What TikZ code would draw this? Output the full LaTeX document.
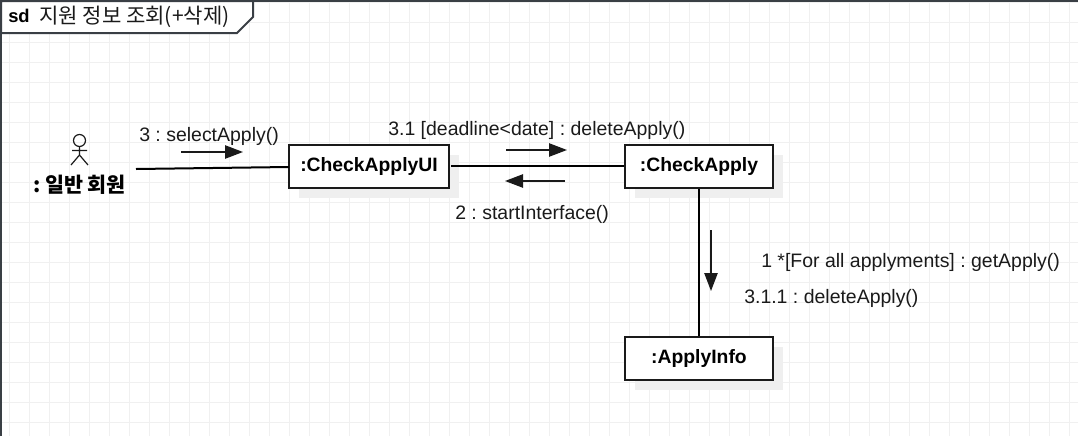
\documentclass[tikz,border=0pt]{standalone}
\usepackage{fontspec}
\setmainfont{Liberation Sans}
\newfontfamily\krfont{Noto Sans CJK KR}
\usetikzlibrary{arrows.meta,shadows}
\definecolor{gridgray}{HTML}{F0F0F0}
\definecolor{shadowgray}{HTML}{EFEFEF}
\definecolor{linedark}{HTML}{1A1A1A}
\definecolor{framedark}{HTML}{3A3F45}
\tikzset{
    objbox/.style={draw=linedark, line width=1.5pt, fill=white, minimum height=32.25pt, inner sep=0pt,
        font=\fontsize{14.5}{17}\selectfont\bfseries,
        drop shadow={opacity=1, fill=shadowgray, shadow xshift=7.5pt, shadow yshift=-7.5pt}},
    msg/.style={anchor=west, inner sep=0pt, text=linedark, font=\fontsize{14.6}{17}\selectfont},
    link/.style={draw=black, line width=1.5pt},
    flow/.style={draw=linedark, line width=1.1pt, -{Triangle[length=13.5pt,width=10pt]}}
}
\begin{document}
\frenchspacing
\begin{tikzpicture}[x=0.75pt,y=-0.75pt]
    \useasboundingbox (0,0) rectangle (1078,436);

    % Grille de fond
    \foreach \x in {9,29,...,1069} {
        \draw[gridgray, line width=0.75pt] (\x,0) -- (\x,436);
    }
    \foreach \y in {2,22,...,422} {
        \draw[gridgray, line width=0.75pt] (0,\y) -- (1078,\y);
    }

    % Cadre et onglet
    \draw[framedark, line width=1.5pt] (1,436) -- (1,1) -- (1078,1);
    \draw[framedark, line width=1.5pt, fill=white] (1,1) -- (253,1) -- (253,17) -- (237,33) -- (1,33) -- cycle;
    \node[anchor=west, inner sep=0pt, font=\fontsize{13.8}{15}\selectfont\bfseries] (sd) at (8,16) {sd};
    \node[anchor=west, inner sep=0pt, text=linedark, font=\fontsize{15.8}{17}\selectfont] (title) at (39,17) {\krfont 지원 정보 조회(+삭제)};

    % Acteur
    \draw[linedark, line width=0.9pt] (79.5,140.5) circle (6);
    \draw[linedark, line width=0.9pt] (79.5,146.5) -- (79.5,155) (72,150.5) -- (87,150.5)
        (71,165) -- (79.5,155) -- (88,165);
    \node[anchor=center, inner sep=0pt, font=\fontsize{15.5}{17}\selectfont\bfseries] (actor) at (79.5,185) {\krfont : 일반 회원};

    % Objets
    \node[objbox, minimum width=120pt] (checkui) at (369,166.5) {\raisebox{2pt}{:CheckApplyUI}};
    \node[objbox, minimum width=111pt] (check) at (699,166.5) {\raisebox{2pt}{:CheckApply}};
    \node[objbox, minimum width=111pt] (info) at (699,358.5) {\raisebox{2pt}{:ApplyInfo}};

    % Liens
    \coordinate (actorend) at (136,169);
    \coordinate (uileft) at (289,167);
    \coordinate (uiright) at (451,166);
    \draw[link] (actorend) -- (uileft);
    \draw[link] (uiright) -- (check.west |- uiright);
    \draw[link] (check.south) -- (info.north);

    % Fleches des messages
    \coordinate (a1) at (181,152);
    \coordinate (a2) at (243,152);
    \coordinate (b1) at (506,150);
    \coordinate (b2) at (567,150);
    \coordinate (c1) at (565,181);
    \coordinate (c2) at (505,181);
    \coordinate (d1) at (711,230);
    \coordinate (d2) at (711,291);
    \draw[flow] (a1) -- (a2);
    \draw[flow] (b1) -- (b2);
    \draw[flow] (c1) -- (c2);
    \draw[flow] (d1) -- (d2);

    % Messages
    \node[msg] (m3) at (139,136) {3 : selectApply()};
    \node[msg] (m31) at (388,130) {3.1 [deadline<date] : deleteApply()};
    \node[msg] (m2) at (455,214) {2 : startInterface()};
    \node[msg] (m1) at (761,262) {1 *[For all applyments] : getApply()};
    \node[msg] (m311) at (744,298) {3.1.1 : deleteApply()};
\end{tikzpicture}
\end{document}
